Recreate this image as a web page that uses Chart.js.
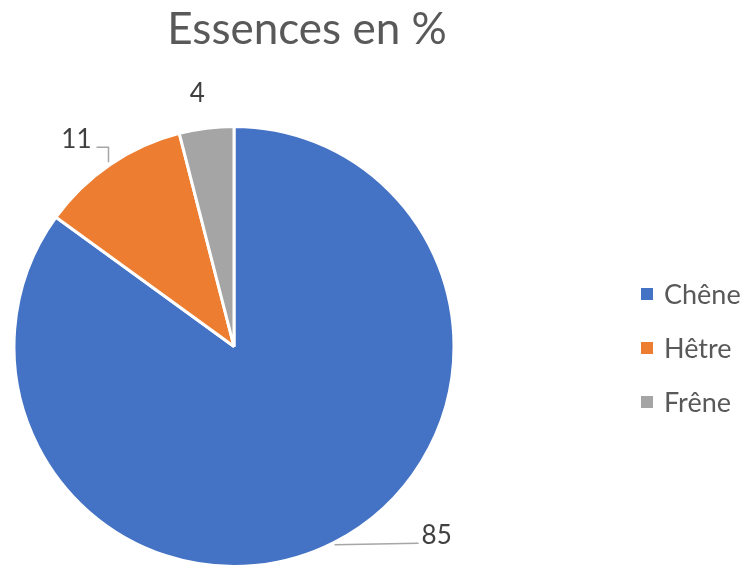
<!DOCTYPE html>
<html>
<head>
<meta charset="utf-8">
<script src="https://cdn.jsdelivr.net/npm/chart.js@4"></script>
<style>
html,body{margin:0;padding:0;background:#fff;}
#wrap{position:relative;width:752px;height:568px;}
</style>
</head>
<body>
<div id="wrap"><canvas id="c" width="752" height="568"></canvas></div>
<script>
const titleText = 'Essences en %';
const categories = ['Chêne', 'Hêtre', 'Frêne'];
const values = [85, 11, 4];
const colors = ['#4472C4', '#ED7D31', '#A5A5A5'];

const FONT = 'Lato, "Liberation Sans", Arial, sans-serif';

// label placement relative to the arc mid-point on the outer edge
const labelPlugin = {
  id: 'labels',
  afterDatasetsDraw(chart) {
    const ctx = chart.ctx;
    const meta = chart.getDatasetMeta(0);
    ctx.save();
    ctx.font = '26px ' + FONT;
    ctx.fillStyle = '#404040';
    ctx.strokeStyle = '#A6A6A6';
    ctx.lineWidth = 1.5;
    meta.data.forEach((arc, i) => {
      const p = arc.getProps(['x','y','startAngle','endAngle','outerRadius'], true);
      const mid = (p.startAngle + p.endAngle) / 2;
      const r = p.outerRadius + 1.5;
      const ex = p.x + Math.cos(mid) * r;
      const ey = p.y + Math.sin(mid) * r;
      const txt = String(values[i]);
      if (i === 0) {
        ctx.beginPath();
        ctx.moveTo(ex, ey + 1);
        ctx.lineTo(ex + 84, ey - 0.5);
        ctx.stroke();
        ctx.textAlign = 'left'; ctx.textBaseline = 'middle';
        ctx.fillText(txt, ex + 87, ey - 8);
      } else if (i === 1) {
        ctx.beginPath();
        ctx.moveTo(ex - 1, ey - 1);
        ctx.lineTo(ex - 1, ey - 16);
        ctx.lineTo(ex - 13, ey - 16);
        ctx.stroke();
        ctx.textAlign = 'right'; ctx.textBaseline = 'middle';
        ctx.fillText(txt, ex - 18, ey - 24);
      } else {
        ctx.textAlign = 'center'; ctx.textBaseline = 'middle';
        ctx.fillText(txt, ex - 9, ey - 33);
      }
    });
    ctx.restore();
  }
};

const decorPlugin = {
  id: 'decor',
  afterDraw(chart) {
    const ctx = chart.ctx;
    ctx.save();
    ctx.fillStyle = '#595959';
    ctx.font = '44px ' + FONT;
    ctx.textAlign = 'center'; ctx.textBaseline = 'alphabetic';
    ctx.fillText(titleText, 307, 44);
    ctx.font = '27px ' + FONT;
    ctx.textAlign = 'left'; ctx.textBaseline = 'middle';
    categories.forEach((c, i) => {
      const y = 294 + i * 54;
      ctx.fillStyle = colors[i];
      ctx.fillRect(641, y - 6, 12, 12);
      ctx.fillStyle = '#595959';
      ctx.fillText(c, 664, y + 1);
    });
    ctx.restore();
  }
};

new Chart(document.getElementById('c'), {
  type: 'pie',
  data: {
    labels: categories,
    datasets: [{
      data: values,
      backgroundColor: colors,
      borderColor: '#ffffff',
      borderWidth: 3
    }]
  },
  options: {
    responsive: false,
    animation: false,
    layout: { padding: { left: 11, right: 295, top: 125, bottom: -3 } },
    plugins: {
      legend: { display: false },
      title: { display: false },
      tooltip: { enabled: false }
    }
  },
  plugins: [labelPlugin, decorPlugin]
});
</script>
</body>
</html>
